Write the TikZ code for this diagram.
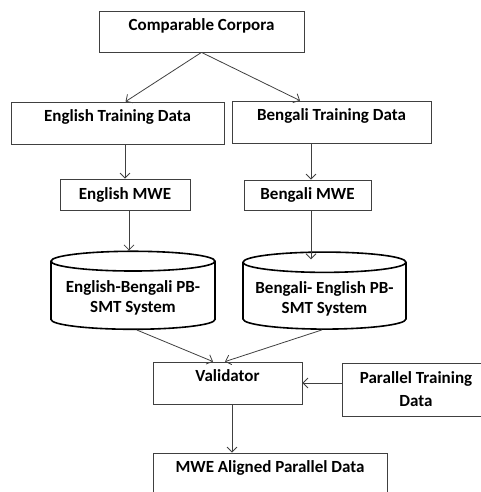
\documentclass[tikz,border=0pt]{standalone}
\usepackage{fontspec}
\setmainfont{Carlito}
\usetikzlibrary{shapes.geometric,arrows.meta}

\begin{document}
\begin{tikzpicture}[x=1pt, y=-1pt,
	every node/.style={font=\fontsize{17}{20}\selectfont\bfseries, align=center},
	box/.style={rectangle, draw=black!75, line width=0.8pt},
	topbox/.style={box, text height=11.5pt, text depth=14pt},
	db/.style={cylinder, shape border rotate=90, draw, line width=1.6pt, aspect=0.14, text depth=-8pt},
	flow/.style={draw=black!75, line width=0.8pt, -{Straight Barb[length=5pt,width=10pt]}}]
	\clip (0,0) rectangle (481,492);

	\node[topbox, minimum width=205pt, minimum height=41pt] (corpora) at (201.5,31.5) {Comparable Corpora};

	\node[topbox, minimum width=213pt, minimum height=42pt] (engTrain) at (117.5,123) {English Training Data};
	\node[topbox, minimum width=199pt, minimum height=42pt] (benTrain) at (331.5,122) {Bengali Training Data};

	\node[box, minimum width=130pt, minimum height=31pt] (engMWE) at (125,194.5) {English MWE};
	\node[box, minimum width=127pt, minimum height=30pt] (benMWE) at (307.5,195) {Bengali MWE};

	\node[db, minimum width=164pt, minimum height=78pt] (engSMT) at (133,297) {English-Bengali PB-\\SMT System};
	\node[db, minimum width=163pt, minimum height=77pt] (benSMT) at (324.5,297.5) {Bengali- English PB-\\SMT System};

	\node[topbox, minimum width=149pt, minimum height=42pt] (validator) at (227.5,383) {Validator};
	\node[box, minimum width=148pt, minimum height=53pt, font=\fontsize{17}{23}\selectfont\bfseries] (parallel) at (416,389.5) {Parallel Training\\Data};

	\node[topbox, minimum width=234pt, minimum height=41pt] (aligned) at (270,473.5) {MWE Aligned Parallel Data};

	% corpora split into both languages
	\draw[flow] (corpora.south) -- ([xshift=8pt]engTrain.north);
	\draw[flow] (corpora.south) -- ([xshift=-31.5pt]benTrain.north);

	\draw[flow] (engTrain.south -| engMWE.north) -- (engMWE.north);
	\draw[flow] ([xshift=3.5pt]benTrain.south -| benMWE.north) -- ([xshift=3.5pt]benMWE.north);

	\draw[flow] ([xshift=4pt]engMWE.south) -- ([xshift=-4pt]engSMT.north);
	\draw[flow] ([xshift=3.5pt]benMWE.south) -- ([xshift=-13.5pt,yshift=-8pt]benSMT.north);

	% both systems feed the validator
	\draw[flow] ([xshift=4pt]engSMT.south) -- ([xshift=-14.5pt]validator.north);
	\draw[flow] ([xshift=-2.5pt]benSMT.south) -- ([xshift=-2.5pt]validator.north);

	\draw[flow] (parallel.west |- validator.east) -- (validator.east);
	\draw[flow] ([xshift=4.5pt]validator.south) -- ([xshift=4.5pt]validator.south |- aligned.north);
\end{tikzpicture}
\end{document}
